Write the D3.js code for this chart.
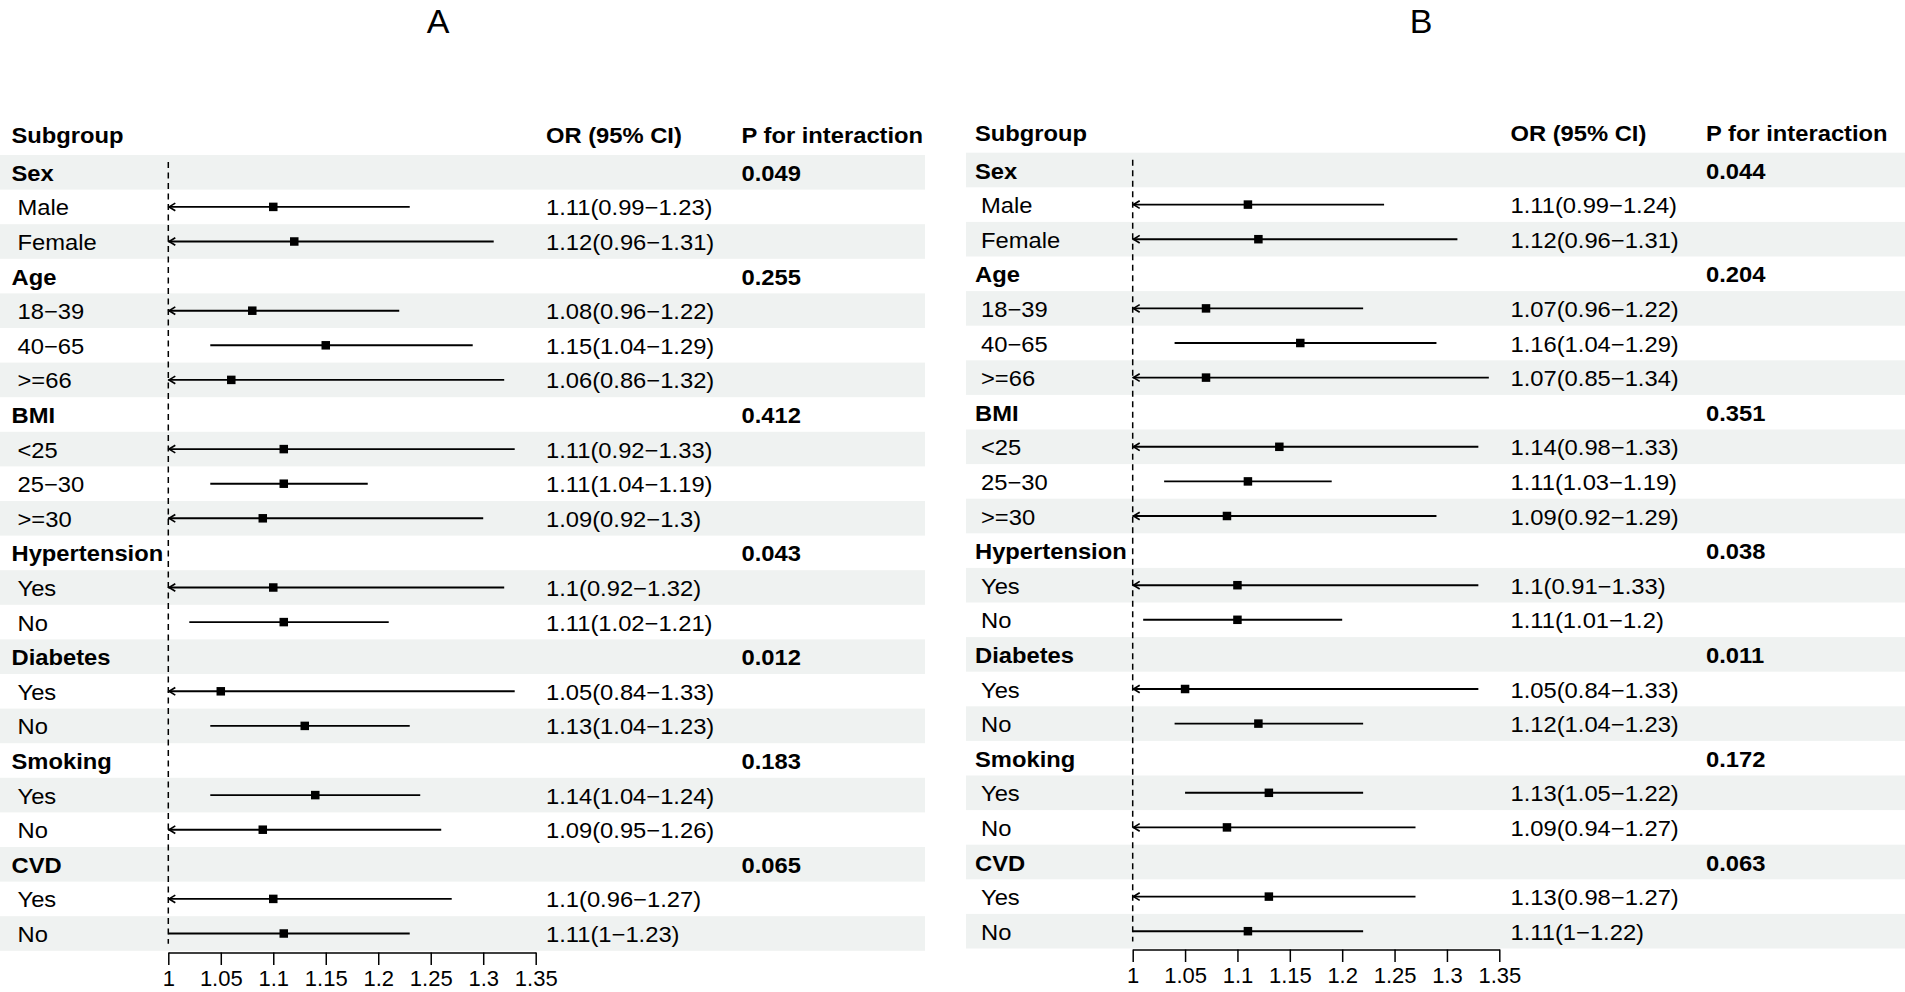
<!DOCTYPE html>
<html>
<head>
<meta charset="utf-8">
<script src="https://cdn.jsdelivr.net/npm/d3@7"></script>
<style>
  html, body { margin: 0; padding: 0; background: #fff; }
  svg text { font-family: "Liberation Sans", Arial, Helvetica, sans-serif; fill: #000; }
</style>
</head>
<body>
<div id="chart"></div>
<script>
// rows shared by both panels
const subgroups = ["Sex", "Male", "Female", "Age", "18−39", "40−65", ">=66",
  "BMI", "<25", "25−30", ">=30", "Hypertension", "Yes", "No",
  "Diabetes", "Yes", "No", "Smoking", "Yes", "No", "CVD", "Yes", "No"];
const isGroup = [1,0,0,1,0,0,0,1,0,0,0,1,0,0,1,0,0,1,0,0,1,0,0];

const tickValues = [1, 1.05, 1.1, 1.15, 1.2, 1.25, 1.3, 1.35];
const tickLabels = ["1", "1.05", "1.1", "1.15", "1.2", "1.25", "1.3", "1.35"];

// panel A
const estA = [null,1.10,1.12,null,1.08,1.15,1.06,null,1.11,1.11,1.09,null,1.10,1.11,null,1.05,1.13,null,1.14,1.09,null,1.10,1.11];
const lowA = [null,0.99,0.96,null,0.96,1.04,0.86,null,0.92,1.04,0.92,null,0.92,1.02,null,0.84,1.04,null,1.04,0.95,null,0.96,1.00];
const highA = [null,1.23,1.31,null,1.22,1.29,1.32,null,1.33,1.19,1.30,null,1.32,1.21,null,1.33,1.23,null,1.24,1.26,null,1.27,1.23];
const orTextA = ["","1.11(0.99−1.23)","1.12(0.96−1.31)","","1.08(0.96−1.22)","1.15(1.04−1.29)","1.06(0.86−1.32)",
  "","1.11(0.92−1.33)","1.11(1.04−1.19)","1.09(0.92−1.3)","","1.1(0.92−1.32)","1.11(1.02−1.21)",
  "","1.05(0.84−1.33)","1.13(1.04−1.23)","","1.14(1.04−1.24)","1.09(0.95−1.26)","","1.1(0.96−1.27)","1.11(1−1.23)"];
const pTextA = ["0.049","","","0.255","","","","0.412","","","","0.043","","","0.012","","","0.183","","","0.065","",""];

// panel B
const estB = [null,1.11,1.12,null,1.07,1.16,1.07,null,1.14,1.11,1.09,null,1.10,1.10,null,1.05,1.12,null,1.13,1.09,null,1.13,1.11];
const lowB = [null,0.99,0.96,null,0.96,1.04,0.85,null,0.98,1.03,0.92,null,0.91,1.01,null,0.84,1.04,null,1.05,0.94,null,0.98,1.00];
const highB = [null,1.24,1.31,null,1.22,1.29,1.34,null,1.33,1.19,1.29,null,1.33,1.20,null,1.33,1.22,null,1.22,1.27,null,1.27,1.22];
const orTextB = ["","1.11(0.99−1.24)","1.12(0.96−1.31)","","1.07(0.96−1.22)","1.16(1.04−1.29)","1.07(0.85−1.34)",
  "","1.14(0.98−1.33)","1.11(1.03−1.19)","1.09(0.92−1.29)","","1.1(0.91−1.33)","1.11(1.01−1.2)",
  "","1.05(0.84−1.33)","1.12(1.04−1.23)","","1.13(1.05−1.22)","1.09(0.94−1.27)","","1.13(0.98−1.27)","1.11(1−1.22)"];
const pTextB = ["0.044","","","0.204","","","","0.351","","","","0.038","","","0.011","","","0.172","","","0.063","",""];

const W = 1905, H = 992;
const ROW_H = 34.6;
const FS = 22, SX = 1.08; // text size, horizontal stretch

const svg = d3.select("#chart").append("svg")
  .attr("width", W).attr("height", H);

function txt(g, x, y, s, opts = {}) {
  return g.append("text")
    .attr("transform", `translate(${x},${y}) scale(${opts.sx || SX},1)`)
    .attr("font-size", opts.size || FS)
    .attr("font-weight", opts.bold ? "bold" : "normal")
    .attr("text-anchor", opts.anchor || "start")
    .text(s);
}

function drawPanel(p) {
  const g = svg.append("g");
  const n = subgroups.length;

  const x = d3.scaleLinear().domain([1, 1.35]).range([p.x0, p.x1]);
  const y = d3.scaleBand().domain(d3.range(n))
    .range([p.top, p.top + n * ROW_H]).paddingInner(0);

  // title
  txt(g, p.titleX, 33, p.title, { size: 34, anchor: "middle", sx: 1 });

  // striped rows
  g.selectAll("rect.band").data(d3.range(n).filter(i => i % 2 === 0))
    .join("rect").attr("class", "band")
    .attr("x", p.bandL).attr("width", p.bandR - p.bandL)
    .attr("y", i => y(i)).attr("height", y.bandwidth())
    .attr("fill", "#eff2f1");

  // header
  const hb = p.top - 12;
  txt(g, p.labX, hb, "Subgroup", { bold: true });
  txt(g, p.orX, hb, "OR (95% CI)", { bold: true });
  txt(g, p.pX, hb, "P for interaction", { bold: true });

  // reference line at 1
  g.append("line")
    .attr("x1", x(1)).attr("x2", x(1))
    .attr("y1", p.top + 7).attr("y2", p.top + n * ROW_H - 7)
    .attr("stroke", "#000").attr("stroke-width", 1.5)
    .attr("stroke-dasharray", "6,4.5");

  // text columns
  d3.range(n).forEach(i => {
    const base = y(i) + y.bandwidth() / 2 + 8.5;
    txt(g, isGroup[i] ? p.labX : p.labX + 6, base, subgroups[i], { bold: !!isGroup[i] });
    if (p.orText[i]) txt(g, p.orX, base, p.orText[i]);
    if (p.pText[i]) txt(g, p.pX, base, p.pText[i], { bold: true });
  });

  // CI lines, arrows and points
  const rows = d3.range(n).filter(i => p.est[i] != null);
  const cy = i => y(i) + y.bandwidth() / 2;

  g.selectAll("line.ci").data(rows).join("line").attr("class", "ci")
    .attr("x1", i => x(Math.max(1, p.low[i])))
    .attr("x2", i => x(p.high[i]))
    .attr("y1", cy).attr("y2", cy)
    .attr("stroke", "#000").attr("stroke-width", 1.9);

  g.selectAll("path.arrow").data(rows.filter(i => p.low[i] < 1)).join("path")
    .attr("class", "arrow")
    .attr("d", i => `M${x(1) + 7},${cy(i) - 3.8}L${x(1) + 0.8},${cy(i)}L${x(1) + 7},${cy(i) + 3.8}`)
    .attr("fill", "none").attr("stroke", "#000").attr("stroke-width", 1.7);

  g.selectAll("rect.pt").data(rows).join("rect").attr("class", "pt")
    .attr("x", i => x(p.est[i]) - 4.25).attr("y", i => cy(i) - 4.25)
    .attr("width", 8.5).attr("height", 8.5).attr("fill", "#000");

  // x axis
  const axis = d3.axisBottom(x).tickValues(tickValues)
    .tickFormat((d, i) => tickLabels[i]).tickSize(12.5).tickSizeOuter(0);
  const ax = g.append("g")
    .attr("transform", `translate(0,${p.axisY})`).call(axis);
  ax.select(".domain").attr("stroke", "#000").attr("stroke-width", 1.5);
  ax.selectAll(".tick line").attr("stroke", "#000").attr("stroke-width", 1.5);
  ax.selectAll(".tick text")
    .attr("font-size", 22).attr("fill", "#000")
    .attr("font-family", "Liberation Sans, Arial, sans-serif")
    .attr("y", 18).attr("dy", "0.71em");
}

drawPanel({
  title: "A", titleX: 438,
  x0: 168.3, x1: 535.7, top: 155, axisY: 952.5,
  bandL: 0, bandR: 925, labX: 11.5, orX: 546, pX: 741.5,
  est: estA, low: lowA, high: highA, orText: orTextA, pText: pTextA
});

drawPanel({
  title: "B", titleX: 1421,
  x0: 1132.7, x1: 1499.3, top: 152.7, axisY: 949.5,
  bandL: 966, bandR: 1905, labX: 975, orX: 1510.5, pX: 1706,
  est: estB, low: lowB, high: highB, orText: orTextB, pText: pTextB
});
</script>
</body>
</html>
